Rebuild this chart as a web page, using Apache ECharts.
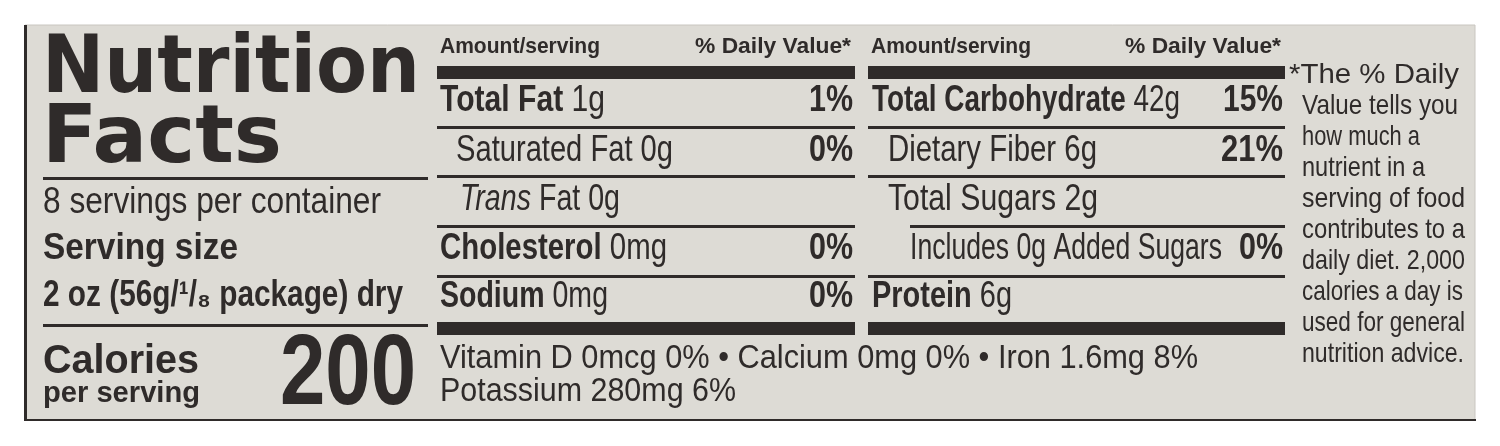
<!DOCTYPE html>
<html>
<head>
<meta charset="utf-8">
<script src="https://cdn.jsdelivr.net/npm/echarts@6/dist/echarts.min.js"></script>
<style>
  html, body { margin: 0; padding: 0; background: #ffffff; }
  #main { width: 1500px; height: 446px; }
</style>
</head>
<body>
<div id="main"></div>
<script>
// label content
var titleLines = ['Nutrition', 'Facts'];
var servingLines = ['8 servings per container', 'Serving size', '2 oz (56g/\u00b9/\u2088 package) dry'];
var calories = '200';

// left nutrient column: name, amount, % daily value, style
var leftNames = ['Total Fat', 'Saturated Fat', 'Trans', 'Cholesterol', 'Sodium'];
var leftAmounts = ['1g', '0g', 'Fat 0g', '0mg', '0mg'];
var leftDV = ['1%', '0%', '', '0%', '0%'];
var leftStyle = ['b', 'n', 'i', 'b', 'b'];

// right nutrient column
var rightNames = ['Total Carbohydrate', 'Dietary Fiber', 'Total Sugars', 'Includes 0g Added Sugars', 'Protein'];
var rightAmounts = ['42g', '6g', '2g', '', '6g'];
var rightDV = ['15%', '21%', '', '0%', ''];
var rightStyle = ['b', 'n', 'n', 'n', 'b'];

var vitaminLines = ['Vitamin D 0mcg 0% \u2022 Calcium 0mg 0% \u2022 Iron 1.6mg 8%', 'Potassium 280mg 6%'];
var footnote = ['*The % Daily', 'Value tells you', 'how much a', 'nutrient in a', 'serving of food',
  'contributes to a', 'daily diet. 2,000', 'calories a day is', 'used for general', 'nutrition advice.'];

var INK = '#2f2b2a';
var FONT = 'Liberation Sans';
var HEAVY = 'DejaVu Sans';
var ctx = document.createElement('canvas').getContext('2d');

function measure(parts) {
  var w = 0;
  parts.forEach(function (p) {
    ctx.font = (p.style || 'normal') + ' ' + (p.weight || 'normal') + ' ' + p.size + 'px "' + (p.family || FONT) + '"';
    w += ctx.measureText(p.text).width;
  });
  return w;
}

var els = [];

// panel
els.push({ type: 'rect', shape: { x: 25, y: 25, width: 1450, height: 395 }, style: { fill: '#dddbd5', stroke: '#c9c6c0', lineWidth: 1 } });
els.push({ type: 'rect', shape: { x: 24, y: 25, width: 3, height: 396 }, style: { fill: INK } });
els.push({ type: 'rect', shape: { x: 24, y: 419, width: 1452, height: 2 }, style: { fill: INK } });

// plain fitted text
function plain(x, y, str, size, weight, width, family, align) {
  var s = width ? width / measure([{ text: str, size: size, weight: weight, family: family }]) : 0.72;
  els.push({
    type: 'text', x: x, y: y, scaleX: s,
    style: { text: str, fill: INK, font: (weight || 'normal') + ' ' + size + 'px "' + (family || FONT) + '"',
      textAlign: align || 'left', textVerticalAlign: 'middle' }
  });
}

// nutrient row: bold/italic/normal name + amount, fitted to width
function row(x, y, name, amt, st, width) {
  var size = 37;
  var first = { text: name, size: size, weight: st === 'b' ? 'bold' : 'normal', style: st === 'i' ? 'italic' : 'normal' };
  var parts = [first];
  if (amt) parts.push({ text: ' ' + amt, size: size });
  var s = width / measure(parts);
  var key = st === 'b' ? 'b' : (st === 'i' ? 'i' : 'n');
  var txt = '{' + key + '|' + name + '}' + (amt ? '{n| ' + amt + '}' : '');
  els.push({
    type: 'text', x: x, y: y, scaleX: s,
    style: {
      text: txt, fill: INK, textAlign: 'left', textVerticalAlign: 'middle',
      rich: {
        b: { fontFamily: FONT, fontWeight: 'bold', fontSize: size, fill: INK },
        i: { fontFamily: FONT, fontStyle: 'italic', fontSize: size, fill: INK },
        n: { fontFamily: FONT, fontSize: size, fill: INK }
      }
    }
  });
}

function hline(x1, x2, y, h) {
  els.push({ type: 'rect', shape: { x: x1, y: y, width: x2 - x1, height: h }, style: { fill: INK } });
}

// title block
plain(42, 71, titleLines[0], 80, 'bold', 378, HEAVY);
plain(42, 141, titleLines[1], 80, 'bold', 240, HEAVY);
hline(43, 428, 177, 3);
plain(43, 203, servingLines[0], 36, 'normal', 338);
plain(43, 249, servingLines[1], 36, 'bold', 195);
plain(43, 296, servingLines[2], 36, 'bold', 360);
hline(43, 428, 324, 3);
plain(43, 362, 'Calories', 40, 'bold', 156);
plain(43, 394, 'per serving', 30, 'bold', 157);
plain(416, 376, calories, 100, 'bold', 136, FONT, 'right');

// column headers
[[437, 853], [868, 1283]].forEach(function (c) {
  plain(c[0] + 3, 47, 'Amount/serving', 22, 'bold', 160);
  plain(c[1] - 2, 47, '% Daily Value*', 22, 'bold', 156, FONT, 'right');
  hline(c[0], c[1] + 2, 66, 13);
  hline(c[0], c[1] + 2, 322, 13);
});

// left column rows
var rowY = [101, 151, 200, 249, 297];
var lineY = [126, 175, 225, 275];
var leftX = [440, 456, 460, 440, 440];
var leftW = [165, 217, 160, 227, 168];
leftNames.forEach(function (n, i) {
  row(leftX[i], rowY[i], n, leftAmounts[i], leftStyle[i], leftW[i]);
  if (leftDV[i]) plain(853, rowY[i], leftDV[i], 37, 'bold', 44, FONT, 'right');
});
lineY.forEach(function (y) { hline(437, 855, y, 3); });

// right column rows
var rightX = [872, 888, 888, 910, 872];
var rightW = [308, 209, 210, 312, 140];
var rightDVW = [60, 62, 0, 44, 0];
rightNames.forEach(function (n, i) {
  row(rightX[i], rowY[i], n, rightAmounts[i], rightStyle[i], rightW[i]);
  if (rightDV[i]) plain(1283, rowY[i], rightDV[i], 37, 'bold', rightDVW[i], FONT, 'right');
});
hline(868, 1285, lineY[0], 3);
hline(868, 1285, lineY[1], 3);
hline(910, 1285, lineY[2], 3);
hline(868, 1285, lineY[3], 3);

// vitamins
plain(440, 359, vitaminLines[0], 34, 'normal', 758);
plain(440, 392, vitaminLines[1], 34, 'normal', 296);

// footnote
footnote.forEach(function (t, i) {
  var x = i === 0 ? 1289 : 1302;
  var w = [170, 156, 118, 123, 163, 163, 163, 161, 163, 162][i];
  plain(x, 75 + i * 31, t, 28, 'normal', w);
});

var myChart = echarts.init(document.getElementById('main'));
myChart.setOption({ animation: false, graphic: { elements: els } });
</script>
</body>
</html>
